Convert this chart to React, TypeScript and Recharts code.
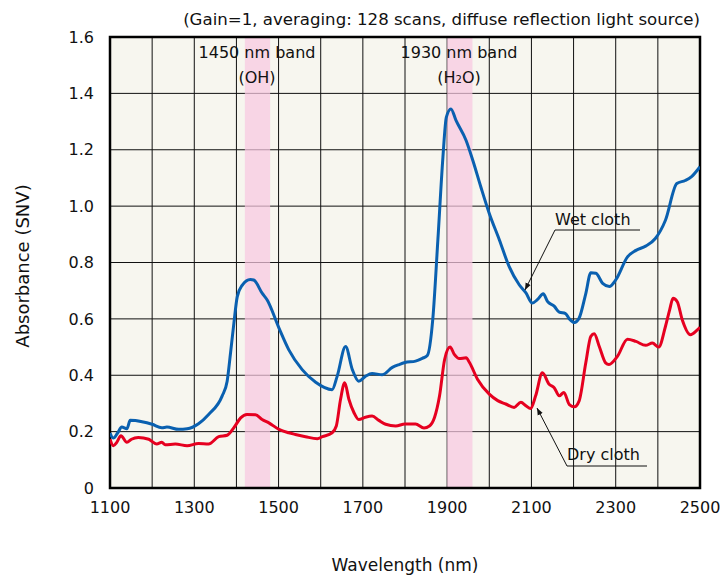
import React from "react";
import { LineChart, Line, XAxis, YAxis, CartesianGrid, ReferenceArea } from "recharts";

const wetNm = [1100,1108,1118,1128,1140,1148,1176,1200,1223,1235,1263,1283,1310,1334,1366,1378,1386,1394,1402,1414,1433,1441,1461,1473,1501,1524,1556,1588,1627,1639,1659,1675,1690,1706,1722,1746,1770,1786,1800,1825,1841,1853,1866,1878,1890,1898,1909,1921,1945,1961,1980,2000,2024,2047,2071,2087,2102,2114,2128,2138,2154,2166,2181,2190,2202,2213,2229,2241,2253,2269,2285,2300,2328,2348,2371,2394,2418,2445,2465,2480,2500];
const wetAbs = [0.195,0.177,0.195,0.216,0.21,0.24,0.235,0.226,0.214,0.216,0.208,0.21,0.228,0.261,0.326,0.379,0.479,0.585,0.679,0.72,0.74,0.738,0.691,0.667,0.567,0.491,0.42,0.375,0.349,0.396,0.502,0.42,0.379,0.396,0.406,0.402,0.428,0.438,0.445,0.45,0.46,0.47,0.6,0.88,1.174,1.315,1.345,1.304,1.233,1.162,1.068,0.974,0.88,0.786,0.721,0.692,0.656,0.668,0.689,0.662,0.645,0.624,0.619,0.6,0.587,0.602,0.69,0.764,0.762,0.726,0.715,0.738,0.82,0.843,0.858,0.885,0.95,1.08,1.091,1.105,1.14];

const dryNm = [1100,1108,1116,1126,1140,1151,1167,1192,1211,1223,1231,1255,1283,1310,1334,1358,1378,1394,1410,1425,1445,1461,1477,1501,1524,1540,1564,1592,1604,1627,1637,1647,1657,1667,1679,1690,1706,1722,1738,1754,1778,1800,1825,1845,1858,1870,1882,1894,1907,1917,1929,1945,1953,1972,2000,2020,2039,2059,2075,2087,2098,2110,2126,2142,2154,2166,2177,2190,2202,2213,2229,2241,2249,2261,2276,2284,2304,2328,2348,2371,2387,2402,2418,2428,2436,2446,2458,2477,2493,2500];
const dryAbs = [0.173,0.15,0.162,0.185,0.162,0.173,0.179,0.173,0.156,0.162,0.153,0.156,0.15,0.158,0.156,0.182,0.187,0.214,0.249,0.261,0.26,0.243,0.231,0.208,0.196,0.19,0.182,0.175,0.182,0.196,0.22,0.314,0.373,0.314,0.267,0.243,0.251,0.255,0.24,0.226,0.22,0.227,0.227,0.213,0.22,0.25,0.327,0.456,0.5,0.474,0.459,0.462,0.445,0.386,0.333,0.31,0.298,0.286,0.304,0.292,0.282,0.327,0.409,0.368,0.356,0.327,0.339,0.296,0.288,0.308,0.444,0.538,0.547,0.502,0.444,0.438,0.467,0.528,0.52,0.506,0.514,0.5,0.573,0.632,0.673,0.661,0.596,0.544,0.56,0.57];

const xTicks = [1100,1200,1300,1400,1500,1600,1700,1800,1900,2000,2100,2200,2300,2400,2500];
const yTicks = [0,0.2,0.4,0.6,0.8,1.0,1.2,1.4,1.6];
const bands = [
  { from: 1420, to: 1480, label: "1450 nm band" },
  { from: 1900, to: 1960, label: "1930 nm band" },
];
const titleText = "(Gain=1, averaging: 128 scans, diffuse reflection light source)";

const wetData = wetNm.map((x, i) => ({ x, y: wetAbs[i] }));
const dryData = dryNm.map((x, i) => ({ x, y: dryAbs[i] }));

const FONT = "DejaVu Sans, Verdana, sans-serif";

export default function App() {
  return (
    <div style={{ position: "absolute", left: 0, top: 0, width: 728, height: 576, background: "#fff" }}>
      <LineChart width={728} height={576} margin={{ top: 37, right: 28, bottom: 58, left: 50 }}>
        <CartesianGrid stroke="#111" strokeWidth={1} fill="#f7f6ef" fillOpacity={1} />
        {bands.map((b) => (
          <ReferenceArea key={b.label} x1={b.from} x2={b.to} y1={0} y2={1.6} fill="#f8c8e0" fillOpacity={0.72} stroke="none" />
        ))}
        <XAxis
          type="number"
          dataKey="x"
          domain={[1100, 2500]}
          ticks={xTicks}
          interval={0}
          tickFormatter={(v: number) => ((v - 1100) % 200 === 0 ? String(v) : "")}
          tickLine={false}
          axisLine={false}
          height={30}
          tickMargin={8}
          tick={{ fontSize: 16, fill: "#111", fontFamily: FONT }}
          allowDataOverflow
        />
        <YAxis
          type="number"
          domain={[0, 1.6]}
          ticks={yTicks}
          interval={0}
          tickFormatter={(v: number) => (v === 0 ? "0" : v.toFixed(1))}
          tickLine={false}
          axisLine={false}
          width={60}
          tickMargin={10}
          tick={{ fontSize: 16, fill: "#111", fontFamily: FONT }}
          allowDataOverflow
        />
        <Line data={dryData} dataKey="y" type="monotone" stroke="#e60020" strokeWidth={3} dot={false} isAnimationActive={false} />
        <Line data={wetData} dataKey="y" type="monotone" stroke="#0a60b0" strokeWidth={3} dot={false} isAnimationActive={false} />
        <ReferenceArea x1={1100} x2={2500} y1={0} y2={1.6} fill="none" stroke="#000" strokeWidth={2.5} fillOpacity={0} />
      </LineChart>
      <svg width={728} height={576} style={{ position: "absolute", left: 0, top: 0, pointerEvents: "none" }}>
        <defs>
          <marker id="arr" viewBox="0 0 10 10" refX="10" refY="5" markerWidth="7" markerHeight="7" orient="auto">
            <path d="M0,1 L10,5 L0,9 z" fill="#111" />
          </marker>
        </defs>
        <text x={700} y={25} textAnchor="end" fontSize={16.6} fontFamily={FONT} fill="#111">{titleText}</text>
        <text x={257} y={58} textAnchor="middle" fontSize={16} fontFamily={FONT} fill="#111">{bands[0].label}</text>
        <text x={257} y={83} textAnchor="middle" fontSize={16} fontFamily={FONT} fill="#111">(OH)</text>
        <text x={459} y={58} textAnchor="middle" fontSize={16} fontFamily={FONT} fill="#111">{bands[1].label}</text>
        <text x={459} y={83} textAnchor="middle" fontSize={16} fontFamily={FONT} fill="#111">
          (H<tspan fontSize={10}>2</tspan>O)
        </text>
        <text x={555} y={225} fontSize={16} fontFamily={FONT} fill="#111">Wet cloth</text>
        <polyline points="640,230 555,230 525,290" fill="none" stroke="#111" strokeWidth={1} markerEnd="url(#arr)" />
        <text x={567} y={460} fontSize={16} fontFamily={FONT} fill="#111">Dry cloth</text>
        <polyline points="647,466 567,466 537,408" fill="none" stroke="#111" strokeWidth={1} markerEnd="url(#arr)" />
        <text x={22} y={266} transform="rotate(-90 22 266)" textAnchor="middle" dominantBaseline="central" fontSize={18} fontFamily={FONT} fill="#111">Absorbance (SNV)</text>
        <text x={405} y={571} textAnchor="middle" fontSize={17} fontFamily={FONT} fill="#111">Wavelength (nm)</text>
      </svg>
    </div>
  );
}
